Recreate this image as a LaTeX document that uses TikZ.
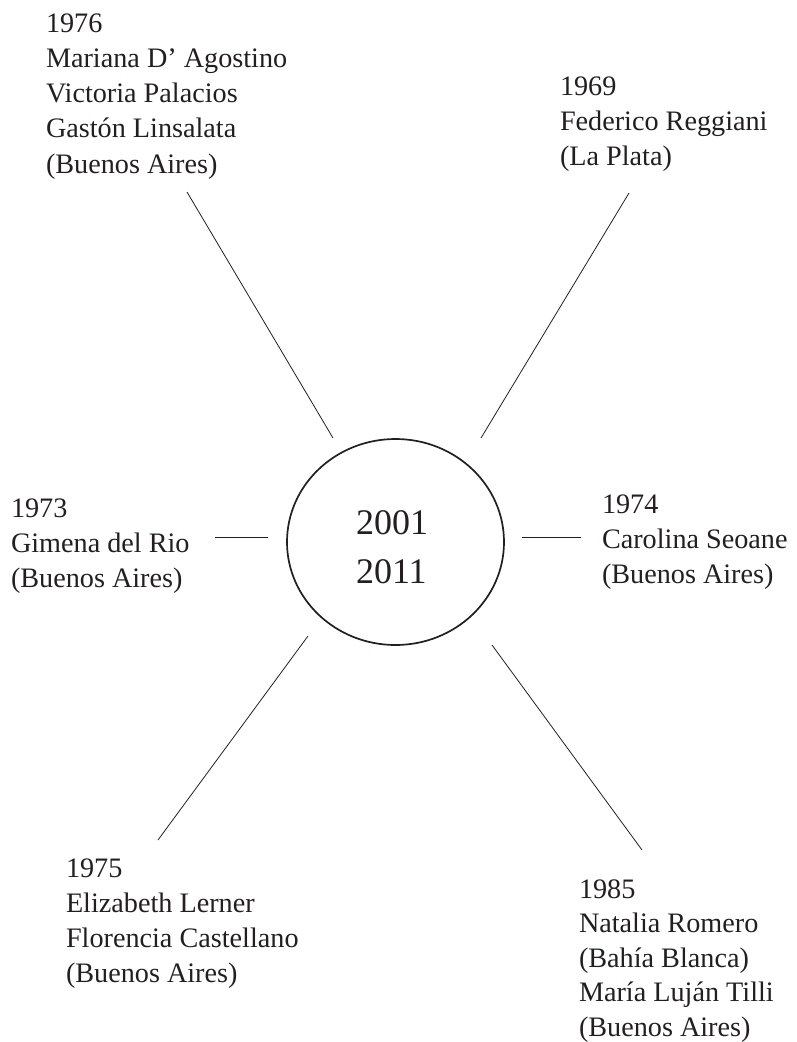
\documentclass[tikz,border=0pt]{standalone}
\usepackage{fontspec}
\setmainfont{Liberation Serif}
\definecolor{ink}{RGB}{35,31,32}
\begin{document}
\begin{tikzpicture}[x=1pt,y=-1pt,
  lbl/.style={anchor=base west, inner sep=0pt, outer sep=0pt, text=ink,
              font=\fontsize{28.2}{35.3}\selectfont},
  years/.style={anchor=base, inner sep=0pt, outer sep=0pt, text=ink,
              font=\fontsize{36}{49}\selectfont},
  spoke/.style={draw=ink, line width=0.8pt},
  hub/.style={draw=ink, line width=1.7pt}]
\useasboundingbox (0,0) rectangle (796,1042);

% central circle and years
\draw[hub] (395.5,542) ellipse [x radius=108.5pt, y radius=103pt];
\node[years] (center) at (392,534) {\vtop{\hbox{2001}\hbox{2011}}};

% labels
\node[lbl] (ul) at (46,32) {\vtop{\hbox{1976}\hbox{Mariana D’ Agostino}\hbox{Victoria Palacios}\hbox{Gastón Linsalata}\hbox{(Buenos Aires)}}};
\node[lbl] (ur) at (560,95) {\vtop{\hbox{1969}\hbox{Federico Reggiani}\hbox{(La Plata)}}};
\node[lbl] (lt) at (11,517) {\vtop{\hbox{1973}\hbox{Gimena del Rio}\hbox{(Buenos Aires)}}};
\node[lbl] (rt) at (602,513) {\vtop{\hbox{1974}\hbox{Carolina Seoane}\hbox{(Buenos Aires)}}};
\node[lbl] (ll) at (66,877) {\vtop{\hbox{1975}\hbox{Elizabeth Lerner}\hbox{Florencia Castellano}\hbox{(Buenos Aires)}}};
\node[lbl, font=\fontsize{28.2}{34.5}\selectfont] (lr) at (579,898) {\vtop{\hbox{1985}\hbox{Natalia Romero}\hbox{(Bahía Blanca)}\hbox{María Luján Tilli}\hbox{(Buenos Aires)}}};

% spoke end points
\coordinate (ulA) at (187,192); \coordinate (ulB) at (333,438);
\coordinate (urA) at (629,193); \coordinate (urB) at (481,438);
\coordinate (ltA) at (215,537); \coordinate (ltB) at (268,537);
\coordinate (rtA) at (522,537); \coordinate (rtB) at (581,537);
\coordinate (llA) at (308,636); \coordinate (llB) at (158,840);
\coordinate (lrA) at (492,645); \coordinate (lrB) at (642,850);

\draw[spoke] (ulA) -- (ulB);
\draw[spoke] (urA) -- (urB);
\draw[spoke] (ltA) -- (ltB);
\draw[spoke] (rtA) -- (rtB);
\draw[spoke] (llA) -- (llB);
\draw[spoke] (lrA) -- (lrB);
\end{tikzpicture}
\end{document}
